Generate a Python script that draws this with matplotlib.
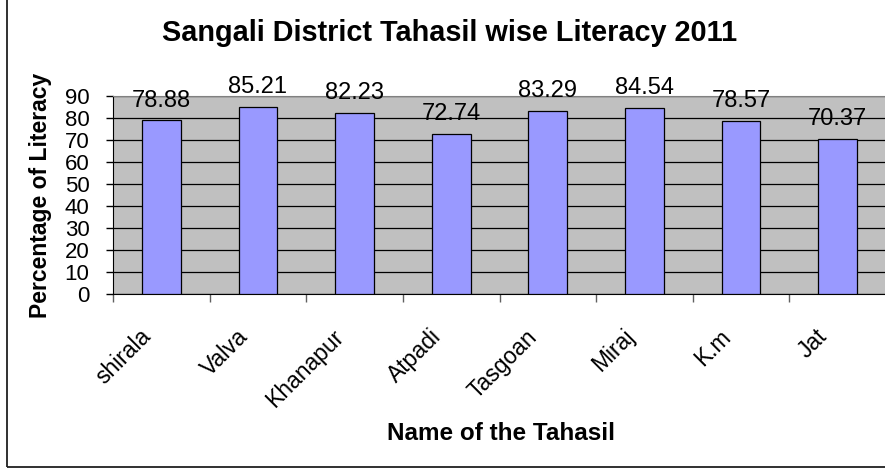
import matplotlib.pyplot as plt
from matplotlib.patches import Rectangle
from matplotlib.transforms import ScaledTranslation

plt.rcParams['font.family'] = ['Liberation Sans', 'DejaVu Sans']

tahasils = ['shirala', 'Valva', 'Khanapur', 'Atpadi', 'Tasgoan', 'Miraj', 'K.m', 'Jat']
literacy = [78.88, 85.21, 82.23, 72.74, 83.29, 84.54, 78.57, 70.37]
yticks = [0, 10, 20, 30, 40, 50, 60, 70, 80, 90]

fig = plt.figure(figsize=(8.85, 4.7), dpi=100)
ax = fig.add_axes([113 / 885, 1 - 294 / 470, 773 / 885, 198 / 470])

# figure frame (the original chart is cropped on the top and right)
fig.patches.append(Rectangle((7 / 885, 3 / 470), 1.0, 1.0, transform=fig.transFigure,
                             fill=False, edgecolor='#202020', linewidth=1.3))

ax.set_facecolor('#C0C0C0')
pos = [i + 0.5 for i in range(len(tahasils))]
ax.bar(pos, literacy, width=0.4, color='#9999FF', edgecolor='black', linewidth=0.9, zorder=3)

for x, v in zip(pos, literacy):
    ax.annotate('%.2f' % v, (x, v), xytext=(0, 10), textcoords='offset points',
                ha='center', va='baseline', fontsize=17, annotation_clip=False, zorder=4)

ax.set_xlim(0, len(tahasils))
ax.set_ylim(0, 90)
ax.set_yticks(yticks)
ax.yaxis.grid(True, color='black', linewidth=0.9, zorder=1)
ax.set_axisbelow(True)

ax.set_xticks(range(len(tahasils) + 1))
ax.set_xticklabels([])
ax.set_xticks(pos, minor=True)
ax.set_xticklabels(tahasils, minor=True, rotation=45, ha='right', va='top',
                   rotation_mode='anchor', fontsize=16.5)
ax.tick_params(axis='x', which='minor', length=0, pad=0)
shift = ScaledTranslation(-0.22, -0.31, fig.dpi_scale_trans)
for lab in ax.get_xticklabels(minor=True):
    lab.set_transform(lab.get_transform() + shift)
ax.tick_params(axis='x', which='major', length=6, color='#606060', width=1)
ax.tick_params(axis='y', length=5, width=1, labelsize=16, pad=12)

for s in ['top', 'right']:
    ax.spines[s].set_color('#808080')
ax.spines['left'].set_color('black')
ax.spines['bottom'].set_color('black')

fig.text(41 / 885, 1 - 195 / 470, 'Percentage of Literacy', rotation=90,
         ha='center', va='center', fontsize=16.5, fontweight='bold')
fig.text(450 / 885, 1 - 33 / 470, 'Sangali District Tahasil wise Literacy 2011',
         ha='center', va='center', fontsize=20.8, fontweight='bold')
fig.text(501 / 885, 1 - 434 / 470, 'Name of the Tahasil',
         ha='center', va='center', fontsize=17.5, fontweight='bold')

fig.savefig('out.png', dpi=100)
